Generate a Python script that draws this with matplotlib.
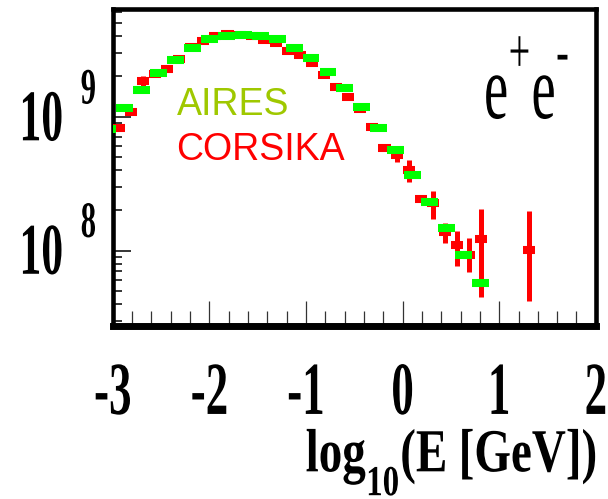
import numpy as np
import matplotlib
matplotlib.use("Agg")
import matplotlib.pyplot as plt
from matplotlib.patheffects import AbstractPathEffect
from matplotlib.transforms import Affine2D
from matplotlib.ticker import (FixedLocator, FixedFormatter, MultipleLocator,
                               LogLocator, NullFormatter)

try:  # raise super/subscripts a bit more (ROOT TLatex look)
    import matplotlib._mathtext as _mt
    _mt.FontConstantsBase.sup1 = 1.1
    _mt.FontConstantsBase.sub1 = 0.85
except Exception:
    pass

# ---------------- data ----------------
# AIRES (green), bin centres in log10(E/GeV)
aires_x = [-3.050, -2.875, -2.700, -2.524, -2.349, -2.174, -1.999, -1.824,
           -1.649, -1.473, -1.298, -1.123, -0.948, -0.772, -0.597, -0.422,
           -0.247, -0.072, 0.103, 0.279, 0.454, 0.629, 0.804]
aires_y = [8.09e8, 1.16e9, 1.58e9, 2.12e9, 2.65e9, 3.23e9, 3.77e9, 4.02e9,
           4.07e9, 4.00e9, 3.77e9, 3.26e9, 2.73e9, 2.17e9, 1.64e9, 1.19e9,
           8.20e8, 5.66e8, 3.68e8, 2.32e8, 1.47e8, 9.31e7, 5.71e7]
aires_binw = 0.175

# CORSIKA (red)
corsika_x = [-2.9375, -2.8125, -2.6875, -2.5625, -2.4375, -2.3125, -2.1875,
             -2.0625, -1.9375, -1.8125, -1.6875, -1.5625, -1.4375, -1.3125,
             -1.1875, -1.0625, -0.9375, -0.8125, -0.6875, -0.5625, -0.4375,
             -0.3125, -0.1875, -0.0625, 0.0625, 0.1875, 0.3125, 0.4375,
             0.5625, 0.6875, 0.8125, 1.3125]
corsika_y = [8.17e8, 1.09e9, 1.85e9, 2.08e9, 2.25e9, 2.71e9, 3.31e9, 3.67e9,
             4.00e9, 4.14e9, 4.07e9, 4.00e9, 3.73e9, 3.53e9, 3.09e9, 2.88e9,
             2.53e9, 2.04e9, 1.67e9, 1.40e9, 1.14e9, 8.41e8, 5.82e8, 5.18e8,
             4.00e8, 2.43e8, 2.27e8, 1.38e8, 1.10e8, 9.30e7, 1.23e8, 1.01e8]
corsika_err_lo = [0, 0, 1.5e8, 0, 0, 0, 0, 0, 0, 0, 0, 0, 0, 0, 0, 1.0e8,
                  9.0e7, 7.0e7, 6.0e7, 5.0e7, 4.0e7, 3.0e7, 2.0e7, 6.0e7,
                  7.6e7, 1.0e7, 5.6e7, 2.3e7, 3.3e7, 2.4e7, 7.8e7, 5.9e7]
corsika_err_hi = [0, 0, 1.5e8, 0, 0, 0, 0, 0, 0, 0, 0, 0, 0, 0, 0, 1.0e8,
                  9.0e7, 7.0e7, 6.0e7, 5.0e7, 4.0e7, 3.0e7, 2.0e7, 6.0e7,
                  7.5e7, 1.0e7, 5.2e7, 2.4e7, 3.0e7, 3.2e7, 8.1e7, 9.7e7]
corsika_binw = 0.125

xtick_vals = [-3, -2, -1, 0, 1, 2]
xtick_labels = ["-3", "-2", "-1", "0", "1", "2"]
ytick_vals = [1e8, 1e9]
ytick_labels = [r"$10^{\enspace\;8}$", r"$10^{\enspace\;9}$"]
xlabel_text = r"$log_{10}(E\ [GeV])$"
legend_labels = ["AIRES", "CORSIKA"]
particle_label = r"$\mathrm{e}^{\mathrm{+}}\mathrm{e}^{\text{-}}$"

# ---------------- style ----------------
plt.rcParams.update({
    "font.family": ["Liberation Serif", "DejaVu Serif"],
    "font.weight": "normal",
    "mathtext.fontset": "custom",
    "mathtext.rm": "Liberation Serif:weight=normal",
    "mathtext.bf": "Liberation Serif:weight=bold",
    "mathtext.it": "Liberation Serif:style=italic",
    "mathtext.default": "bf",
    "axes.unicode_minus": False,
})

try:
    from matplotlib.mathtext import MathTextParser
    MathTextParser("path").parse(particle_label)
except Exception:
    particle_label = r"$\mathrm{e}^{\mathrm{+}}\mathrm{e}^{\mathrm{-}}$"

GREEN = "#00ff00"
RED = "#ff0000"
AIRES_TXT = "#9fc800"

W, H = 608, 499
L_PX, R_PX, T_PX, B_PX = 112.8, 595.8, 8.8, 326.3


class VStretch(AbstractPathEffect):
    """Stretch a text path vertically about its baseline (narrow ROOT Times look)."""
    def __init__(self, sy, dx=0.0, dy=0.0):
        super().__init__()
        self.sy, self.dx, self.dy = sy, dx, dy

    def draw_path(self, renderer, gc, tpath, affine, rgbFace=None):
        b = affine.transform((0.0, 0.0))[1]
        dxp = renderer.points_to_pixels(self.dx)
        dyp = renderer.points_to_pixels(self.dy)
        t = affine + Affine2D().translate(0, -b).scale(1.0, self.sy).translate(dxp, b + dyp)
        renderer.draw_path(gc, tpath, t, rgbFace)


def axc(px, py):
    return (px - L_PX) / (R_PX - L_PX), (B_PX - py) / (B_PX - T_PX)


fig = plt.figure(figsize=(W / 100, H / 100), dpi=100)
fig.patch.set_facecolor("white")
ax = fig.add_axes([L_PX / W, 1 - B_PX / H, (R_PX - L_PX) / W, (B_PX - T_PX) / H])
ax.set_yscale("log")
ax.set_xlim(-3, 2)
ax.set_ylim(2.73e7, 6.38e9)

cx = np.array(corsika_x)
cy = np.array(corsika_y)
ax.vlines(cx, cy - np.array(corsika_err_lo), cy + np.array(corsika_err_hi),
          colors=RED, linewidth=3.6, capstyle="butt", zorder=3)
ax.hlines(cy, cx - corsika_binw / 2, cx + corsika_binw / 2, colors=RED,
          linewidth=5.8, capstyle="butt", zorder=3)
axx = np.array(aires_x)
ax.hlines(aires_y, axx - aires_binw / 2, axx + aires_binw / 2, colors=GREEN,
          linewidth=5.8, capstyle="butt", zorder=4)

# frame
for s in ["left", "right", "top"]:
    ax.spines[s].set_linewidth(3.3)
ax.spines["bottom"].set_linewidth(5.0)

# x axis
ax.xaxis.set_major_locator(FixedLocator(xtick_vals))
ax.xaxis.set_major_formatter(FixedFormatter(xtick_labels))
ax.xaxis.set_minor_locator(MultipleLocator(0.2))
ax.tick_params(axis="x", which="both", direction="in", bottom=True, top=False,
               color="#333333", width=0.9, pad=63.1, labelsize=32.4)
ax.tick_params(axis="x", which="major", length=17.7)
ax.tick_params(axis="x", which="minor", length=11)

# y axis
ax.yaxis.set_major_locator(FixedLocator(ytick_vals))
ax.yaxis.set_major_formatter(FixedFormatter(ytick_labels))
ax.yaxis.set_minor_locator(LogLocator(base=10, subs=np.arange(2, 10), numticks=40))
ax.yaxis.set_minor_formatter(NullFormatter())
ax.tick_params(axis="y", which="both", direction="in", left=True, right=False,
               color="black", width=1.1, pad=11.4, labelsize=31.5)
ax.tick_params(axis="y", which="major", length=13)
ax.tick_params(axis="y", which="minor", length=6.4)

for lbl in ax.get_xticklabels():
    lbl.set_va("baseline")
    lbl.set_fontweight("bold")
    lbl.set_path_effects([VStretch(1 / 0.6)])
for lbl in ax.get_yticklabels():
    lbl.set_va("baseline")
    lbl.set_path_effects([VStretch(1 / 0.6, dy=-17.1)])

# x title
ax.set_xlabel(xlabel_text, fontsize=33.9)
ax.xaxis.set_label_coords(*axc(451.5, 471.7))
ax.xaxis.label.set_va("baseline")
ax.xaxis.label.set_ha("center")
ax.xaxis.label.set_path_effects([VStretch(1 / 0.77)])

# legend-like labels
ax.text(*axc(176.5, 115), legend_labels[0], transform=ax.transAxes,
        family="Liberation Sans", fontweight="normal", fontsize=27,
        color=AIRES_TXT, ha="left", va="baseline")
ax.text(*axc(176.0, 160.5), legend_labels[1], transform=ax.transAxes,
        family="Liberation Sans", fontweight="normal", fontsize=27,
        color=RED, ha="left", va="baseline")

# particle label e+ e-
ax.text(*axc(484.0, 119), particle_label, transform=ax.transAxes,
        fontsize=39.3, color="black", ha="left", va="baseline",
        path_effects=[VStretch(1 / 0.6)])

fig.savefig("out.png", dpi=100)
